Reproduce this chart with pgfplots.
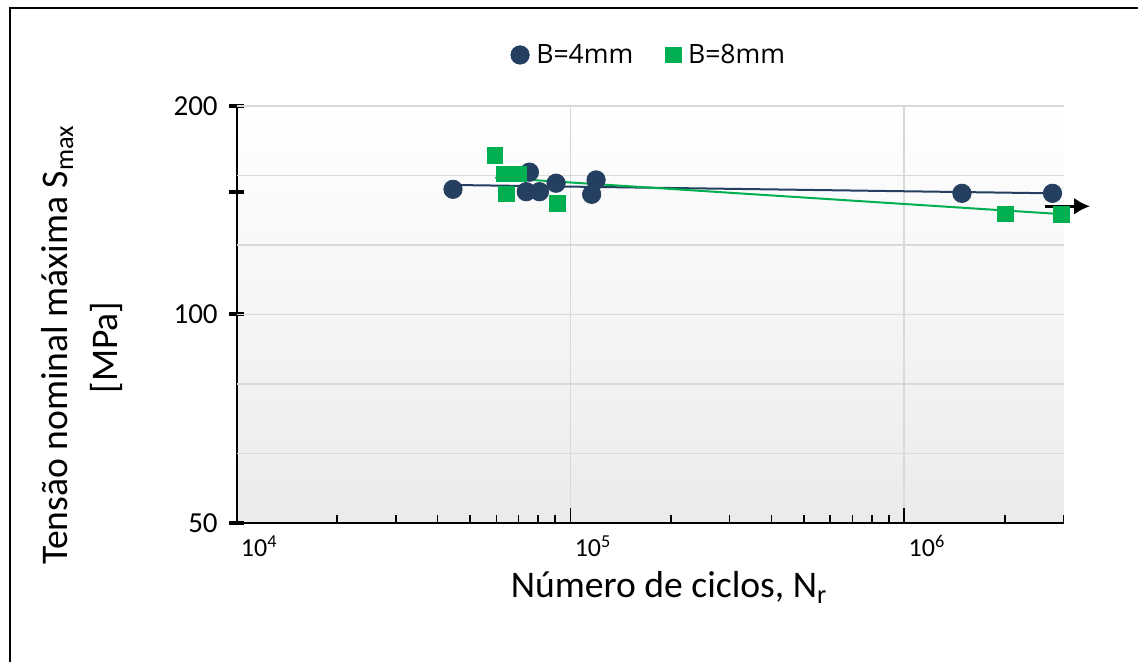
\documentclass[border=0pt]{standalone}
\usepackage{pgfplots}
\pgfplotsset{compat=1.18}
\usetikzlibrary{arrows.meta}
\usepackage{fontspec}
\setmainfont{Carlito}
\newfontfamily\legfont{Open Sans}
\definecolor{navy}{HTML}{243F60}
\definecolor{grn}{HTML}{00B050}
\definecolor{gridc}{HTML}{D9D9D9}
\newcommand{\xtl}{\fontsize{13}{15}\selectfont}
\newcommand{\ytl}{\fontsize{14.5}{16}\selectfont}
\begin{document}
\begin{tikzpicture}
\useasboundingbox (-118.25pt,-69.5pt) rectangle (450.75pt,261.5pt);
\draw[line width=1.2pt] (-113.25pt,-69.5pt) -- (-113.25pt,257.5pt) -- (450.75pt,257.5pt);
\begin{axis}[
  at={(0,0)}, anchor=south west,
  scale only axis, width=413.5pt, height=208.5pt,
  xmode=log, ymode=log,
  xmin=1e4, xmax=3e6, ymin=50, ymax=200,
  axis x line*=bottom, axis y line*=left,
  axis line style={line width=1pt, black},
  axis background/.style={top color=white, bottom color=black!8},
  clip=false,
  xtick={1e4,1e5,1e6},
  xticklabel={\pgfmathtruncatemacro\ee{round(\tick/2.302585)}\xtl 10\textsuperscript{\ee}},
  minor xtick={2e4,3e4,4e4,5e4,6e4,7e4,8e4,9e4,2e5,3e5,4e5,5e5,6e5,7e5,8e5,9e5,2e6,3e6},
  xtick align=inside,
  xtick style={line width=0.8pt, black},
  major tick length=7.5pt, minor tick length=4pt,
  xmajorgrids,
  grid style={gridc, line width=0.8pt},
  xticklabel style={anchor=base west, inner sep=0pt, xshift=2pt, yshift=-16.8pt},
  ytick={50,100,150,200},
  yticklabel={\pgfmathtruncatemacro\vv{round(exp(\tick))}\ifnum\vv=150 \else\ytl\vv\fi},
  ytick align=center,
  ytick style={line width=2pt, black},
  yticklabel style={anchor=east, inner sep=0pt, xshift=-5.5pt},
  extra y ticks={62.996,79.370,100,125.992,158.740,200},
  extra y tick labels={},
  extra y tick style={grid=major, major tick length=0pt},
  legend style={at={(0.5,1.1223)}, anchor=center, draw=none, fill=none,
    font=\legfont\fontsize{13.3}{15}\selectfont, legend columns=2,
    /tikz/every odd column/.append style={column sep=1.5pt},
    /tikz/every even column/.append style={column sep=14pt}},
  legend image code/.code={\draw[#1] plot coordinates {(0pt,0pt)};},
]
\addplot[navy, line width=1pt, forget plot] coordinates {(44500,153.8) (2780000,149.6)};
\addplot[grn, line width=1pt, forget plot] coordinates {(59550,157.6) (2960000,139.6)};
\addplot[only marks, mark=*, mark size=4.6pt, navy, mark options={fill=navy, draw=navy}] coordinates {
(44500,151.6) (75400,160.5) (73750,150.4) (80800,150.4) (90600,154.7)
(119400,156.4) (115800,149.1) (1489000,149.6) (2780000,149.6)};
\addlegendentry{B=4mm}
\addplot[only marks, mark=square*, mark size=3.9pt, grn, mark options={fill=grn, draw=grn}] coordinates {
(59350,169.6) (63480,159.6) (66620,159.6) (69900,159.6) (64230,149.4)
(91600,144.7) (2007000,139.7) (2960000,139.6)};
\addlegendentry{B=8mm}
\draw[-{Latex[length=8pt,width=8.5pt]}, line width=1.5pt, black] (axis cs:2644000,143.3) -- (axis cs:3603000,143.3);
\end{axis}
\node[rotate=90, anchor=base, font=\fontsize{18.8}{22}\selectfont] at (-84.25pt,89pt) {Tensão nominal máxima S\textsubscript{max}};
\node[rotate=90, anchor=base, font=\fontsize{18.8}{22}\selectfont] at (-59.25pt,87.75pt) {[MPa]};
\node[anchor=base, font=\fontsize{18.8}{22}\selectfont] at (216.25pt,-37.5pt) {Número de ciclos, N\textsubscript{r}};
\end{tikzpicture}
\end{document}
